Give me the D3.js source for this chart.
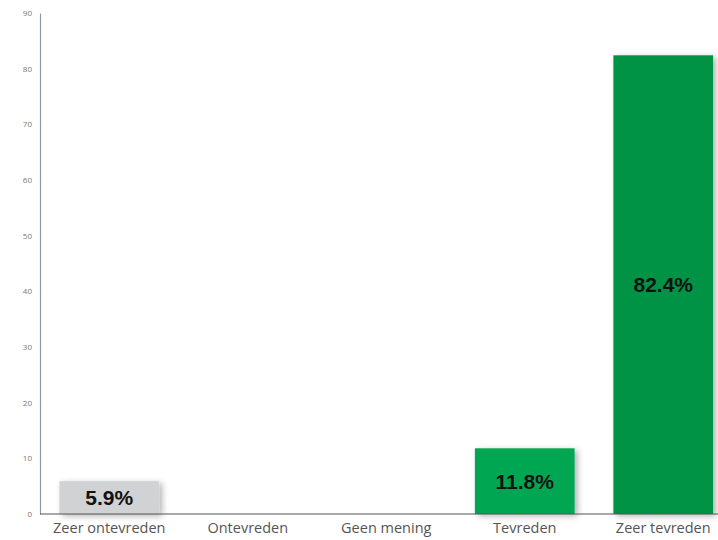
<!DOCTYPE html>
<html>
<head>
<meta charset="utf-8">
<script src="https://cdn.jsdelivr.net/npm/d3@7"></script>
<style>
  body { margin: 0; background: #fff; }
  svg { display: block; }
</style>
</head>
<body>
<div id="chart"></div>
<script>
const categories = ['Zeer ontevreden', 'Ontevreden', 'Geen mening', 'Tevreden', 'Zeer tevreden'];
const values = [5.9, 0, 0, 11.8, 82.4];
const barColors = ['#d1d2d4', '#d1d2d4', '#d1d2d4', '#00a651', '#009245'];
const yTicks = [0, 10, 20, 30, 40, 50, 60, 70, 80, 90];

const W = 718, H = 540;
const svg = d3.select('#chart').append('svg')
  .attr('width', W).attr('height', H);

// drop shadow like the original
const defs = svg.append('defs');
const f = defs.append('filter').attr('id', 'shadow')
  .attr('x', '-10%').attr('y', '-10%').attr('width', '130%').attr('height', '130%');
f.append('feDropShadow')
  .attr('dx', 3).attr('dy', 2).attr('stdDeviation', 3)
  .attr('flood-color', '#000').attr('flood-opacity', 0.3);

const x = d3.scaleBand()
  .domain(categories)
  .range([40, 732.5])
  .paddingInner(0.28)
  .paddingOuter(0.14);

const y = d3.scaleLinear()
  .domain([0, 90])
  .range([514, 13]);

// bars
const data = categories.map((c, i) => ({ cat: c, v: values[i], color: barColors[i] }));

const bars = svg.selectAll('.bar')
  .data(data.filter(d => d.v > 0))
  .enter().append('g')
  .attr('class', 'bar');

bars.append('rect')
  .attr('x', d => x(d.cat))
  .attr('y', d => y(d.v))
  .attr('width', x.bandwidth())
  .attr('height', d => y(0) - y(d.v))
  .attr('fill', d => d.color)
  .attr('filter', 'url(#shadow)');

bars.append('text')
  .attr('x', d => x(d.cat) + x.bandwidth() / 2)
  .attr('y', d => (y(d.v) + y(0)) / 2)
  .attr('dy', '0.36em')
  .attr('text-anchor', 'middle')
  .style('font-family', 'Liberation Sans, Arial, sans-serif')
  .style('font-weight', 'bold')
  .style('font-size', '21px')
  .style('fill', '#111')
  .text(d => d.v.toFixed(1) + '%');

// y axis
const yAxis = svg.append('g')
  .attr('transform', 'translate(40,0)')
  .call(d3.axisLeft(y).tickValues(yTicks).tickSize(0).tickPadding(8));
yAxis.select('.domain').attr('stroke', '#8c9aa6').attr('stroke-width', 1.2);
yAxis.selectAll('text')
  .style('font-family', 'Open Sans, sans-serif')
  .style('font-size', '8px')
  .style('fill', '#777');

// x axis
const xAxis = svg.append('g')
  .attr('transform', 'translate(0,514)')
  .call(d3.axisBottom(x).tickSize(0).tickPadding(9));
xAxis.select('.domain').attr('d', 'M40,0H718').attr('stroke', '#555').attr('stroke-width', 1.2);
xAxis.selectAll('text')
  .style('font-family', 'Open Sans, sans-serif')
  .style('font-size', '14.5px')
  .style('fill', '#555');
</script>
</body>
</html>
